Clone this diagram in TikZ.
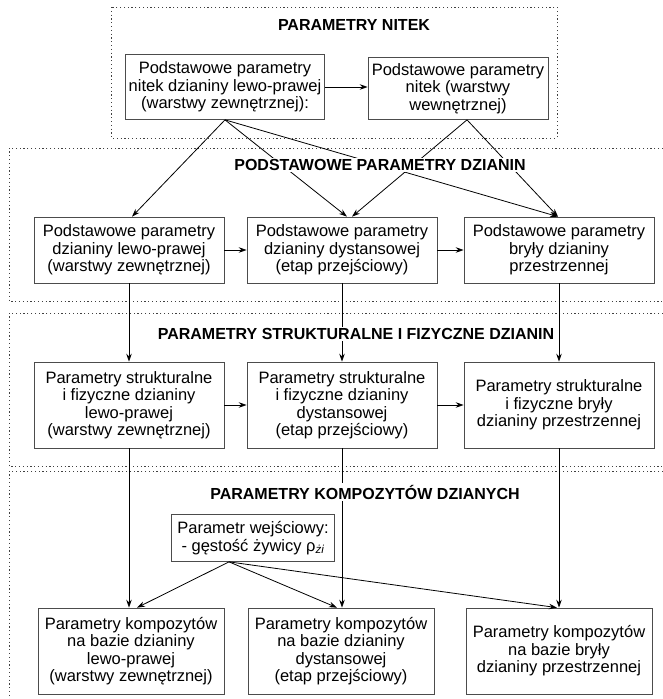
\documentclass[tikz,border=0pt]{standalone}
\usepackage{fontspec}
\setmainfont{Liberation Sans}
\usetikzlibrary{arrows.meta}

\begin{document}
\begin{tikzpicture}[x=1pt,y=-1pt,line width=0.8pt]
    \tikzstyle{arrow} = [line width=0.8pt,-{Stealth[length=8pt,width=5.5pt]}]
    \tikzstyle{frame} = [draw=black!75, line width=0.9pt, dash pattern=on 1.2pt off 2.6pt]
    \tikzstyle{param} = [rectangle, draw=black!70, line width=0.7pt, align=center, inner sep=2pt, font=\fontsize{16.5}{17.5}\selectfont]
    \tikzstyle{title} = [fill=white, inner sep=1.5pt, font=\fontsize{16}{18}\selectfont\bfseries]
    \useasboundingbox (0,0) rectangle (663,699);
    % ramki
    \draw[frame] (111,7) rectangle (557,138);
    \draw[frame] (663,148) -- (9,148) -- (9,301) -- (663,301);
    \draw[frame] (663,313) -- (9,313) -- (9,466) -- (663,466);
    \draw[frame] (663,471) -- (9,471) -- (9,699);
    % parametry nitek
    \node (nit-lp) [param, minimum width=199pt, minimum height=65pt] at (225,87) {Podstawowe parametry\\nitek dzianiny lewo-prawej\\(warstwy zewnętrznej):};
    \node (nit-w) [param, minimum width=180pt, minimum height=62pt] at (458,88.5) {Podstawowe parametry\\nitek (warstwy\\wewnętrznej)};
    % podstawowe parametry dzianin
    \node (pod-lp) [param, minimum width=190pt, minimum height=66pt] at (129,250) {Podstawowe parametry\\dzianiny lewo-prawej\\(warstwy zewnętrznej)};
    \node (pod-d) [param, minimum width=190pt, minimum height=66pt] at (342,250) {Podstawowe parametry\\dzianiny dystansowej\\(etap przejściowy)};
    \node (pod-b) [param, minimum width=190pt, minimum height=66pt] at (559,250) {Podstawowe parametry\\bryły dzianiny\\przestrzennej};
    % parametry strukturalne
    \node (str-lp) [param, minimum width=190pt, minimum height=86pt] at (129,405) {Parametry strukturalne\\i fizyczne dzianiny\\lewo-prawej\\(warstwy zewnętrznej)};
    \node (str-d) [param, minimum width=190pt, minimum height=86pt] at (342,405) {Parametry strukturalne\\i fizyczne dzianiny\\dystansowej\\(etap przejściowy)};
    \node (str-b) [param, minimum width=190pt, minimum height=86pt] at (559,405) {Parametry strukturalne\\i fizyczne bryły\\dzianiny przestrzennej};
    % kompozyty
    \node (zyw) [param, minimum width=163pt, minimum height=47pt] at (253,538) {Parametr wejściowy:\\- gęstość żywicy ρ\textsubscript{\itshape żi}};
    \node (kom-lp) [param, minimum width=186pt, minimum height=86pt] at (131,651) {Parametry kompozytów\\na bazie dzianiny\\lewo-prawej\\(warstwy zewnętrznej)};
    \node (kom-d) [param, minimum width=186pt, minimum height=86pt] at (341,651) {Parametry kompozytów\\na bazie dzianiny\\dystansowej\\(etap przejściowy)};
    \node (kom-b) [param, minimum width=186pt, minimum height=86pt] at (559,651) {Parametry kompozytów\\na bazie bryły\\dzianiny przestrzennej};
    % strzalki
    \draw [arrow] (nit-lp.east) -- (nit-lp.east -| nit-w.west);
    \draw [arrow] (nit-lp.south) -- ([xshift=3pt]pod-lp.north);
    \draw [arrow] (nit-lp.south) -- ([xshift=5pt]pod-d.north);
    \draw [arrow] (nit-lp.south) -- ([xshift=-1pt]pod-b.north);
    \draw [arrow] ([xshift=9pt]nit-w.south) -- ([xshift=10pt]pod-d.north);
    \draw [arrow] ([xshift=9pt]nit-w.south) -- ([xshift=-1pt]pod-b.north);
    \draw [arrow] (pod-lp.east) -- (pod-d.west);
    \draw [arrow] (pod-d.east) -- (pod-b.west);
    \draw [arrow] (pod-lp.south) -- (str-lp.north);
    \draw [arrow] (pod-d.south) -- (str-d.north);
    \draw [arrow] (pod-b.south) -- (str-b.north);
    \draw [arrow] (str-lp.east) -- (str-d.west);
    \draw [arrow] (str-d.east) -- (str-b.west);
    \draw [arrow] (str-lp.south) -- (str-lp.south |- kom-lp.north);
    \draw [arrow] (str-d.south) -- (str-d.south |- kom-d.north);
    \draw [arrow] (str-b.south) -- (kom-b.north);
    \draw [arrow] ([xshift=-24pt]zyw.south) -- ([xshift=6pt]kom-lp.north);
    \draw [arrow] ([xshift=-24pt]zyw.south) -- ([xshift=-4pt]kom-d.north);
    \draw [arrow] ([xshift=-24pt]zyw.south) -- ([xshift=-2pt]kom-b.north);
    % tytuly
    \node (t-nit) [title] at (354,25) {PARAMETRY NITEK};
    \node (t-pod) [title] at (380,165) {PODSTAWOWE PARAMETRY DZIANIN};
    \node (t-str) [title] at (356,334) {PARAMETRY STRUKTURALNE I FIZYCZNE DZIANIN};
    \node (t-kom) [title] at (365,492) {PARAMETRY KOMPOZYTÓW DZIANYCH};
\end{tikzpicture}
\end{document}
